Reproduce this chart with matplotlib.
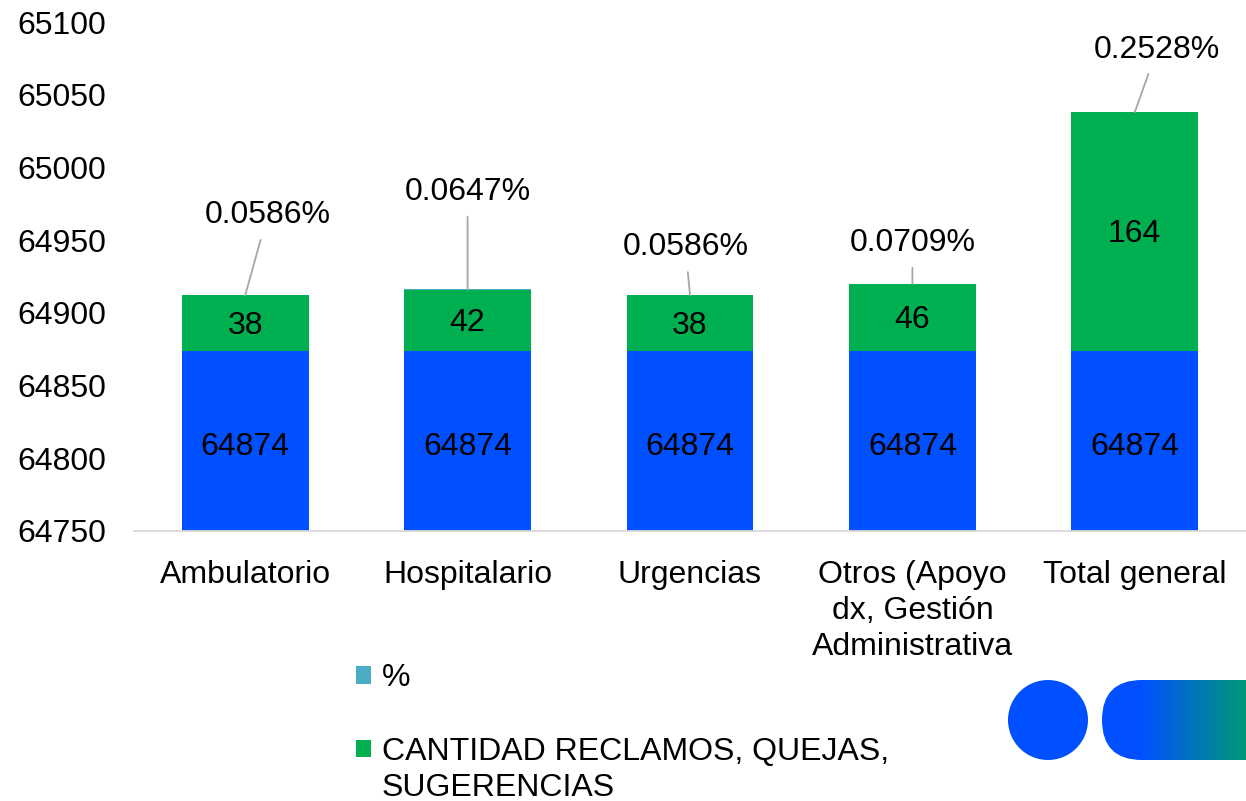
import matplotlib.pyplot as plt
import numpy as np
from matplotlib.patches import Circle, FancyBboxPatch
from matplotlib.colors import LinearSegmentedColormap

plt.rcParams['font.family'] = ['Liberation Sans', 'DejaVu Sans']

categories = ['Ambulatorio', 'Hospitalario', 'Urgencias',
              'Otros (Apoyo\ndx, Gestión\nAdministrativa', 'Total general']
base = [64874, 64874, 64874, 64874, 64874]
cantidad = [38, 42, 38, 46, 164]
pct = [0.0586, 0.0647, 0.0586, 0.0709, 0.2528]
pct_labels = ['0.0586%', '0.0647%', '0.0586%', '0.0709%', '0.2528%']
# label positions (x offset, y) for the percent callouts
pct_pos = [(0.1, 64967), (0.0, 64983), (-0.02, 64945), (0.0, 64948), (0.1, 65081)]

blue = '#0050ff'
green = '#00b050'
teal = '#4bacc6'
fs = 23

fig = plt.figure(figsize=(12.46, 8.01), dpi=100)
ax = fig.add_axes([134 / 1246, 270 / 801, 1112 / 1246, 509 / 801])

x = np.arange(len(categories))
w = 0.57
ax.bar(x, base, w, color=blue, label='_base')
top = np.array(base) + np.array(cantidad)
ax.bar(x, cantidad, w, bottom=base, color=green,
       label='CANTIDAD RECLAMOS, QUEJAS,')
ax.bar(x, pct, w, bottom=top, color=teal, label='%')

for i in range(len(x)):
    ax.text(x[i], 64808, str(base[i]), ha='center', va='center', fontsize=fs)
    ax.text(x[i], base[i] + cantidad[i] / 2 - 2, str(cantidad[i]),
            ha='center', va='center', fontsize=fs)
    lx, ly = pct_pos[i]
    ax.annotate(pct_labels[i], xy=(x[i], top[i]), xytext=(x[i] + lx, ly),
                ha='center', va='center', fontsize=fs,
                arrowprops=dict(arrowstyle='-', color='#a6a6a6', lw=1.3,
                                shrinkA=5, shrinkB=0))

ax.set_xlim(-0.5, len(x) - 0.5)
ax.set_ylim(64750, 65100)
ax.set_yticks(np.arange(64750, 65101, 50))
ax.set_xticks(x)
ax.set_xticklabels(categories, fontsize=fs, linespacing=1.26)
ax.tick_params(axis='y', labelsize=fs, length=0, pad=20)
ax.tick_params(axis='x', length=0, pad=21)
for s in ['top', 'right', 'left']:
    ax.spines[s].set_visible(False)
ax.spines['bottom'].set_color('#d9d9d9')
ax.spines['bottom'].set_linewidth(1.3)

h, l = ax.get_legend_handles_labels()
order = [l.index('%'), l.index('CANTIDAD RECLAMOS, QUEJAS,')]
leg = fig.legend([h[i] for i in order], [l[i] for i in order],
                 loc='upper left', bbox_to_anchor=(334 / 1246, 1 - 641 / 801),
                 frameon=False, fontsize=fs, handlelength=0.45, handleheight=0.45,
                 handletextpad=0.35, labelspacing=1.37, borderpad=0.2)

# second line of the legend label, under the first
fig.canvas.draw()
bb = leg.get_texts()[1].get_window_extent()
fig.text(bb.x0 / 1246, (bb.y0 - 36) / 801, 'SUGERENCIAS', fontsize=fs,
         ha='left', va='bottom')

# decorative logo
lg = fig.add_axes([1000 / 1246, 31 / 801, 246 / 1246, 100 / 801])
lg.set_xlim(1000, 1246)
lg.set_ylim(31, 131)
lg.axis('off')
lg.add_patch(Circle((1048, 81), 40, color=blue, lw=0))
pill = FancyBboxPatch((1102, 41), 200, 80,
                      boxstyle='round,pad=0,rounding_size=40',
                      facecolor='none', edgecolor='none')
lg.add_patch(pill)
gx = np.linspace(1102, 1246, 300)
grad = np.clip((gx - 1140) / (1246 - 1140), 0, 1)[None, :]
cmap = LinearSegmentedColormap.from_list('g', [blue, '#009878'])
im = lg.imshow(grad, extent=[1102, 1246, 41, 121], aspect='auto', cmap=cmap)
im.set_clip_path(pill)

fig.savefig('out.png', dpi=100)
